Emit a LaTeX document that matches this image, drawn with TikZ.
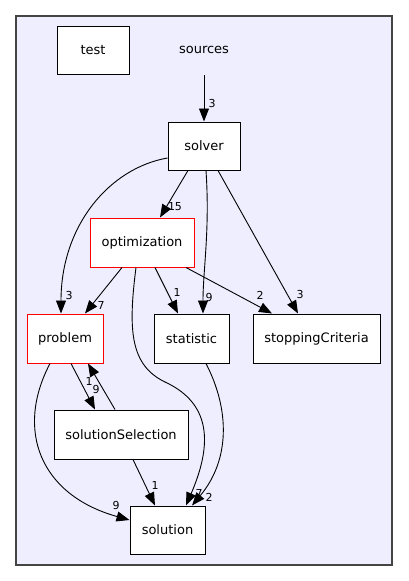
\documentclass[tikz,border=0pt]{standalone}
\usepackage{fontspec}
\setmainfont{DejaVu Sans}
\usetikzlibrary{arrows.meta, calc}
\definecolor{clusterfill}{HTML}{EEEEFF}
\definecolor{clusterline}{HTML}{444444}

\begin{document}
\begin{tikzpicture}[x=1pt, y=-1pt, >={Triangle[length=13pt, width=10pt]},
  dir/.style={draw=black, line width=1pt, fill=white, inner sep=0pt, font=\fontsize{13}{15}\selectfont},
  reddir/.style={dir, draw=red},
  dep/.style={->, line width=0.9pt},
  num/.style={font=\fontsize{11}{12}\selectfont, inner sep=0pt}]
  \useasboundingbox (0,0) rectangle (408,581);
  \draw[clusterline, fill=clusterfill, line width=1.3pt] (16,16) rectangle (392,565);
  % directories
  \node[dir, minimum width=72pt, minimum height=48pt] (test) at (93,50) {test};
  \node[font=\fontsize{13}{15}\selectfont] (sources) at (204,50) {sources};
  \coordinate (sourcesout) at (204,75);
  \node[dir, minimum width=72pt, minimum height=48pt] (solver) at (204,146) {solver};
  \node[reddir, minimum width=104pt, minimum height=49pt] (optimization) at (142,242.5) {optimization};
  \node[reddir, minimum width=76pt, minimum height=49pt] (problem) at (65,338.5) {problem};
  \node[dir, minimum width=75pt, minimum height=49pt] (statistic) at (191.5,338.5) {statistic};
  \node[dir, minimum width=127pt, minimum height=49pt] (stoppingCriteria) at (316.5,338.5) {stoppingCriteria};
  \node[dir, minimum width=134pt, minimum height=49pt] (solutionSelection) at (121,434.5) {solutionSelection};
  \node[dir, minimum width=75pt, minimum height=48pt] (solution) at (167.5,530) {solution};
  % dependencies
  \draw[dep] (sourcesout) -- (solver.north) node[num] at (212,103) {3};
  \draw[dep] ($(solver.south)+(-16,0)$) -- ($(optimization.north)+(18,0)$) node[num] at (175,207) {15};
  \draw[dep] ($(solver.west)+(0,12)$) .. controls (110,168) and (61,225) .. ($(problem.north)+(-4,0)$) node[num] at (69,295) {3};
  \draw[dep] ($(solver.south)+(2,0)$) .. controls (210,230) and (203,270) .. ($(statistic.north)+(11.5,0)$) node[num] at (209,297) {9};
  \draw[dep] ($(solver.south)+(14,0)$) -- ($(stoppingCriteria.north)+(-18.5,0)$) node[num] at (300,294) {3};
  \draw[dep] ($(optimization.south)+(-20,0)$) -- ($(problem.north)+(20,0)$) node[num] at (101,305) {7};
  \draw[dep] ($(optimization.south)+(13,0)$) -- ($(statistic.north)+(-13.5,0)$) node[num] at (177,292) {1};
  \draw[dep] ($(optimization.south)+(44,0)$) -- ($(stoppingCriteria.north)+(-44.5,0)$) node[num] at (260,295) {2};
  \draw[dep] ($(optimization.south)+(-6,0)$) .. controls (128,330) and (130,365) .. (165,382)
    .. controls (215,405) and (210,450) .. ($(solution.north)+(18.5,0)$) node[num] at (199,493) {7};
  \draw[dep] ($(statistic.south)+(14.5,0)$) .. controls (230,410) and (230,460) .. ($(solution.north)+(24.5,0)$) node[num] at (209,497) {2};
  \draw[dep] ($(problem.south)+(6,0)$) -- ($(solutionSelection.north)+(-26,0)$) node[num] at (96,389) {9};
  \draw[dep] ($(solutionSelection.north)+(-6,0)$) -- ($(problem.south)+(23,0)$) node[num] at (89,381) {1};
  \draw[dep] ($(problem.south)+(-15,0)$) .. controls (15,430) and (40,495) .. ($(solution.west)+(0,-10)$) node[num] at (116,505) {9};
  \draw[dep] ($(solutionSelection.south)+(12,0)$) -- ($(solution.north)+(-12.5,0)$) node[num] at (155,485) {1};
\end{tikzpicture}
\end{document}
